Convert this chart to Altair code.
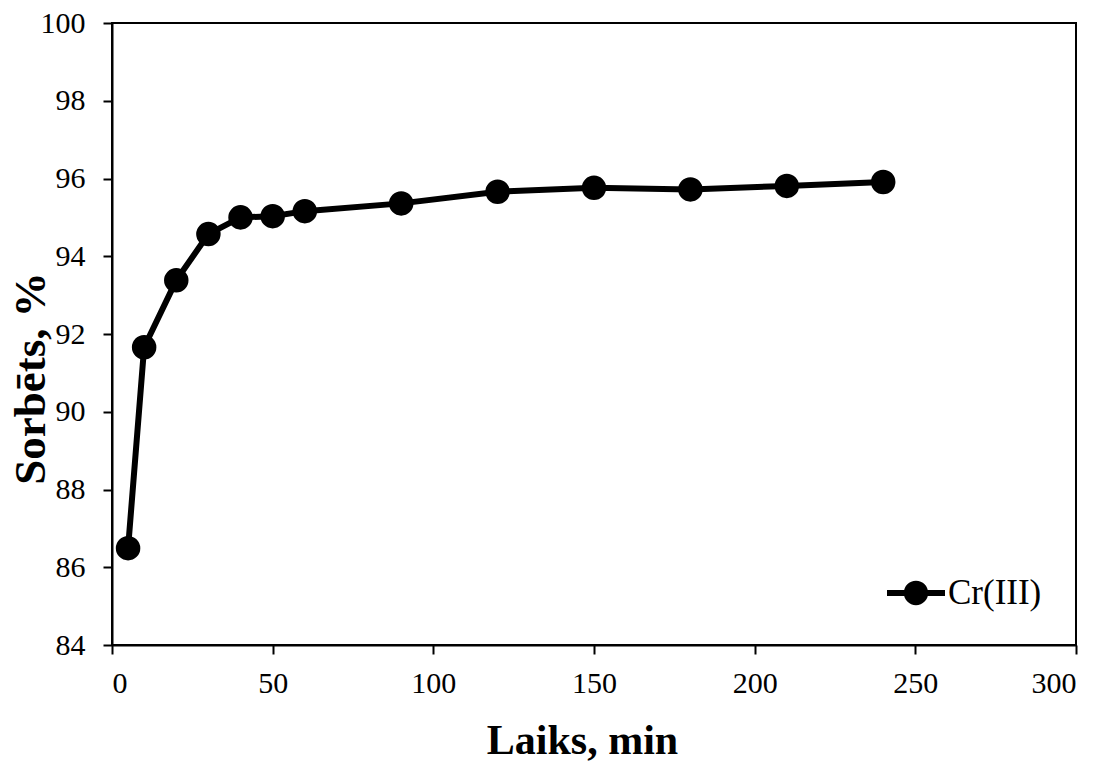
import altair as alt
import pandas as pd

time_min = [5, 10, 20, 30, 40, 50, 60, 90, 120, 150, 180, 210, 240]
sorbed_pct = [86.49, 91.66, 93.38, 94.57, 95.0, 95.03, 95.16, 95.36, 95.66, 95.76, 95.72, 95.81, 95.91]
series_name = "Cr(III)"
x_ticks = [0, 50, 100, 150, 200, 250, 300]
y_ticks = [84, 86, 88, 90, 92, 94, 96, 98, 100]

df = pd.DataFrame({"t": time_min, "s": sorbed_pct, "series": [series_name] * len(time_min)})

FONT = "Liberation Serif"

legend_symbol = (
    "M-1,-0.1L-0.3,-0.1L-0.3,0.1L-1,0.1Z "
    "M0.3,-0.1L1,-0.1L1,0.1L0.3,0.1Z "
    "M-0.42,0A0.42,0.42,0,1,1,0.42,0A0.42,0.42,0,1,1,-0.42,0Z"
)

x = alt.X("t:Q", scale=alt.Scale(domain=[0, 300], nice=False),
          axis=alt.Axis(values=x_ticks, title="Laiks, min", titleX=470, titleY=108,
                        titleBaseline="alphabetic", titleAlign="center",
                        labelFont=FONT, labelFontSize=30, labelPadding=14,
                        titleFont=FONT, titleFontSize=42, titleFontWeight="bold"))
y = alt.Y("s:Q", scale=alt.Scale(domain=[84, 100], nice=False, zero=False),
          axis=alt.Axis(values=y_ticks, title="Sorbēts,  %", titleX=-68, titleY=355,
                        titleBaseline="alphabetic", titleAlign="center", titleAngle=270,
                        labelFont=FONT, labelFontSize=30, labelPadding=18,
                        titleFont=FONT, titleFontSize=45, titleFontWeight="bold"))

line = alt.Chart(df).mark_line(strokeWidth=6, color="black").encode(
    x=x, y=y,
    color=alt.Color("series:N", scale=alt.Scale(range=["black"]),
                    legend=alt.Legend(title=None, orient="none", legendX=775, legendY=541,
                                      symbolType=legend_symbol, symbolSize=3364,
                                      symbolFillColor="black", symbolStrokeWidth=0,
                                      labelFont=FONT, labelFontSize=35, labelColor="black",
                                      labelOffset=3, padding=0)),
)
points = alt.Chart(df).mark_point(filled=True, size=600, color="black", opacity=1, shape="circle").encode(
    x="t:Q", y="s:Q"
)

chart = alt.layer(line, points).properties(
    width=964, height=622,
    autosize=alt.AutoSizeParams(type="none"),
    padding={"left": 104, "top": 15, "right": 20, "bottom": 128},
).configure_view(stroke="black", strokeWidth=2).configure_axis(
    grid=False, domainColor="black", domainWidth=2, tickColor="black", tickWidth=2, tickSize=9,
    labelColor="black", titleColor="black",
)

chart.save("out.html", embed_options={"renderer": "svg", "actions": False})
